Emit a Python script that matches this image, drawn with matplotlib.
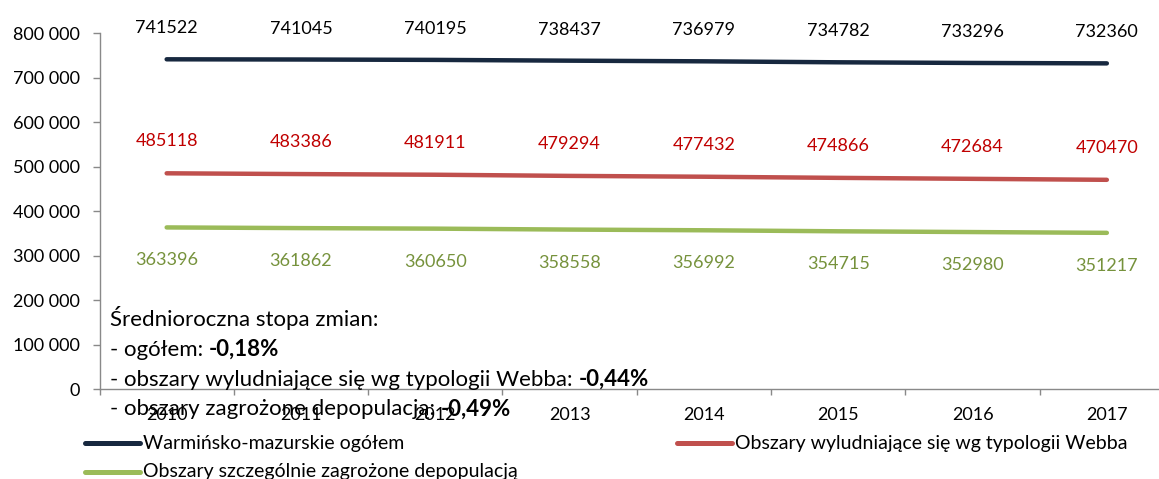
import matplotlib
matplotlib.use('Agg')
import matplotlib.pyplot as plt
from matplotlib.lines import Line2D

# values
years = ['2010', '2011', '2012', '2013', '2014', '2015', '2016', '2017']
total = [741522, 741045, 740195, 738437, 736979, 734782, 733296, 732360]
webb = [485118, 483386, 481911, 479294, 477432, 474866, 472684, 470470]
depop = [363396, 361862, 360650, 358558, 356992, 354715, 352980, 351217]

names = ['Warmińsko-mazurskie ogółem',
         'Obszary wyludniające się wg typologii Webba',
         'Obszary szczególnie zagrożone depopulacją']
rates = ['-0,18%', '-0,44%', '-0,49%']
rateLabels = ['- ogółem: ', '- obszary wyludniające się wg typologii Webba: ',
              '- obszary zagrożone depopulacją: ']

plt.rcParams['font.family'] = ['Lato', 'DejaVu Sans']
FS = 13       # ticks and data labels
FS_NOTE = 16  # note inside the plot
FS_LEG = 14   # legend

W, H = 1159, 479
fig = plt.figure(figsize=(W / 100, H / 100), dpi=100)

def fx(x):
    return x / W

def fy(y):
    return 1 - y / H

# axes runs past the right edge like in the cropped original
ax = fig.add_axes([fx(99.5), fy(389), (1174 - 99.5) / W, (389 - 33.3) / H])

lineColors = ['#17283F', '#C0504D', '#9BBB59']
labelColors = ['black', '#C00000', '#76923C']
offsets = [31, 32, -33]
xs = list(range(len(years)))

for series, lc, tc, off in zip([total, webb, depop], lineColors, labelColors, offsets):
    ax.plot(xs, series, color=lc, lw=3.2, solid_capstyle='round')
    for x, v in zip(xs, series):
        ax.annotate(str(v), (x, v), xytext=(0, off), textcoords='offset pixels',
                    ha='center', va='center', fontsize=FS, color=tc)

ax.set_xlim(-0.5, 7.5)
ax.set_ylim(0, 800000)
ax.set_yticks(range(0, 800001, 100000))
ax.set_yticklabels([f"{v:,}".replace(',', ' ') for v in range(0, 800001, 100000)])
ax.set_xticks(xs)
ax.set_xticklabels(years)
ax.set_xticks([i - 0.5 for i in range(9)], minor=True)

for s in ['top', 'right']:
    ax.spines[s].set_visible(False)
for s in ['left', 'bottom']:
    ax.spines[s].set_color('#898989')
    ax.spines[s].set_linewidth(1.0)

ax.tick_params(axis='x', which='major', length=0, pad=13, labelsize=FS)
ax.tick_params(axis='x', which='minor', length=4, width=1, color='#898989', direction='out')
ax.tick_params(axis='y', length=5, width=1, color='#898989', pad=9, labelsize=FS)

# text block with the average yearly change
fig.text(fx(110), fy(326), 'Średnioroczna stopa zmian:', fontsize=FS_NOTE, va='baseline')
for i, (lab, r) in enumerate(zip(rateLabels, rates)):
    yb = 356 + i * 29.7
    t = fig.text(fx(110), fy(yb), lab, fontsize=FS_NOTE, va='baseline')
    ax.annotate(r, xy=(1, fy(yb)), xycoords=(t, 'figure fraction'),
                fontsize=FS_NOTE, fontweight='bold', va='baseline', ha='left',
                annotation_clip=False)

# legend drawn by hand to keep Excel's layout
legendPos = [(85, 140, 443), (677, 732, 443), (85, 140, 472)]
for (x0, x1, y), c, n in zip(legendPos, lineColors, names):
    fig.add_artist(Line2D([fx(x0), fx(x1)], [fy(y), fy(y)], color=c, lw=3.6,
                          solid_capstyle='round', transform=fig.transFigure))
    fig.text(fx(x1 + 3), fy(y), n, fontsize=FS_LEG, va='center', ha='left')

fig.savefig('out.png', dpi=100)
